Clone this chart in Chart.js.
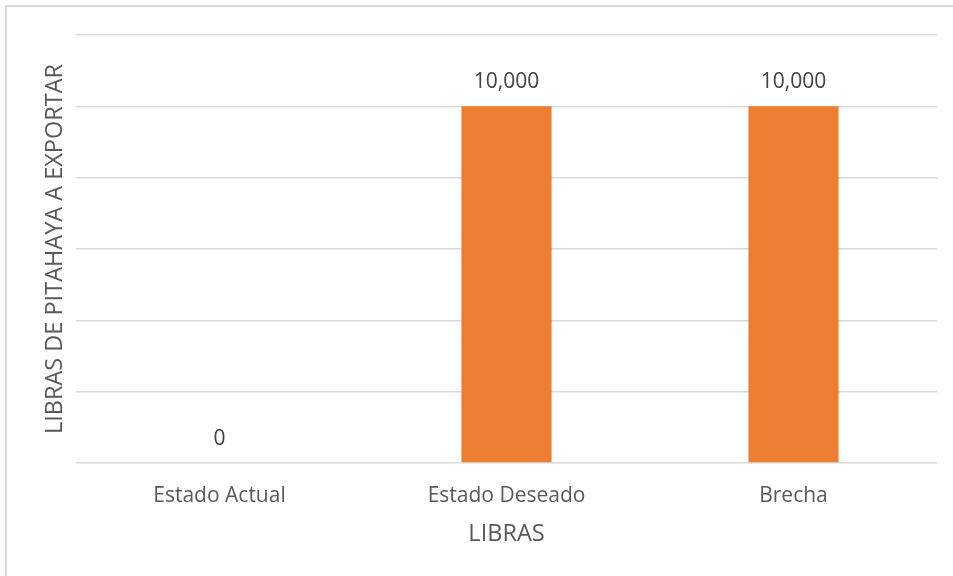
<!DOCTYPE html>
<html>
<head>
<meta charset="utf-8">
<script src="https://cdn.jsdelivr.net/npm/chart.js"></script>
<style>
  body { margin: 0; background: #fff; }
  canvas { display: block; }
</style>
</head>
<body>
<canvas id="brechaChart" width="953" height="576"></canvas>
<script>
// datos del grafico
var categorias = ["Estado Actual", "Estado Deseado", "Brecha"];
var libras = [0, 10000, 10000];
var tituloX = "LIBRAS";
var tituloY = "LIBRAS DE PITAHAYA A EXPORTAR";

Chart.defaults.font.family = "'Open Sans', sans-serif";

// marco gris alrededor del grafico
var marco = {
    id: 'marco',
    beforeDraw: function (chart) {
        var ctx = chart.ctx;
        ctx.save();
        ctx.fillStyle = '#ffffff';
        ctx.fillRect(0, 0, chart.width, chart.height);
        ctx.strokeStyle = '#d9d9d9';
        ctx.lineWidth = 2;
        ctx.strokeRect(6, 6, chart.width + 20, chart.height + 20);
        ctx.restore();
    }
};

// etiquetas de valor sobre las barras
var etiquetas = {
    id: 'etiquetas',
    afterDatasetsDraw: function (chart) {
        var ctx = chart.ctx;
        var meta = chart.getDatasetMeta(0);
        ctx.save();
        ctx.font = "21px 'Open Sans', sans-serif";
        ctx.fillStyle = '#404040';
        ctx.textAlign = 'center';
        ctx.textBaseline = 'alphabetic';
        meta.data.forEach(function (bar, i) {
            var valor = chart.data.datasets[0].data[i];
            ctx.fillText(valor.toLocaleString('en-US'), bar.x, bar.y - 18);
        });
        ctx.restore();
    }
};

var ctx = document.getElementById("brechaChart").getContext('2d');
var myBarChart = new Chart(ctx, {
    type: 'bar',
    data: {
        labels: categorias,
        datasets: [{
            label: tituloX,
            data: libras,
            backgroundColor: "#ED7D31",
            borderWidth: 0,
            categoryPercentage: 1,
            barPercentage: 0.314
        }]
    },
    options: {
        responsive: false,
        animation: false,
        layout: {
            padding: { left: 0, right: 16, top: 35, bottom: 0 }
        },
        plugins: {
            legend: { display: false },
            tooltip: { enabled: false }
        },
        scales: {
            x: {
                grid: { display: false, drawTicks: false },
                border: { display: false },
                ticks: {
                    color: '#595959',
                    font: { size: 21 },
                    padding: 20
                },
                title: {
                    display: true,
                    text: tituloX,
                    color: '#595959',
                    font: { size: 23.5 },
                    padding: { top: 0, bottom: 28 }
                },
                afterFit: function (scale) { scale.height = 113; }
            },
            y: {
                min: 0,
                max: 12000,
                ticks: { display: false, stepSize: 2000 },
                grid: { color: '#d9d9d9', lineWidth: 1.5, drawTicks: false },
                border: { display: false },
                title: {
                    display: true,
                    text: tituloY,
                    color: '#595959',
                    font: { size: 23.5 },
                    padding: { top: 41, bottom: 0 }
                },
                afterFit: function (scale) { scale.width = 76; }
            }
        }
    },
    plugins: [marco, etiquetas]
});
</script>
</body>
</html>
